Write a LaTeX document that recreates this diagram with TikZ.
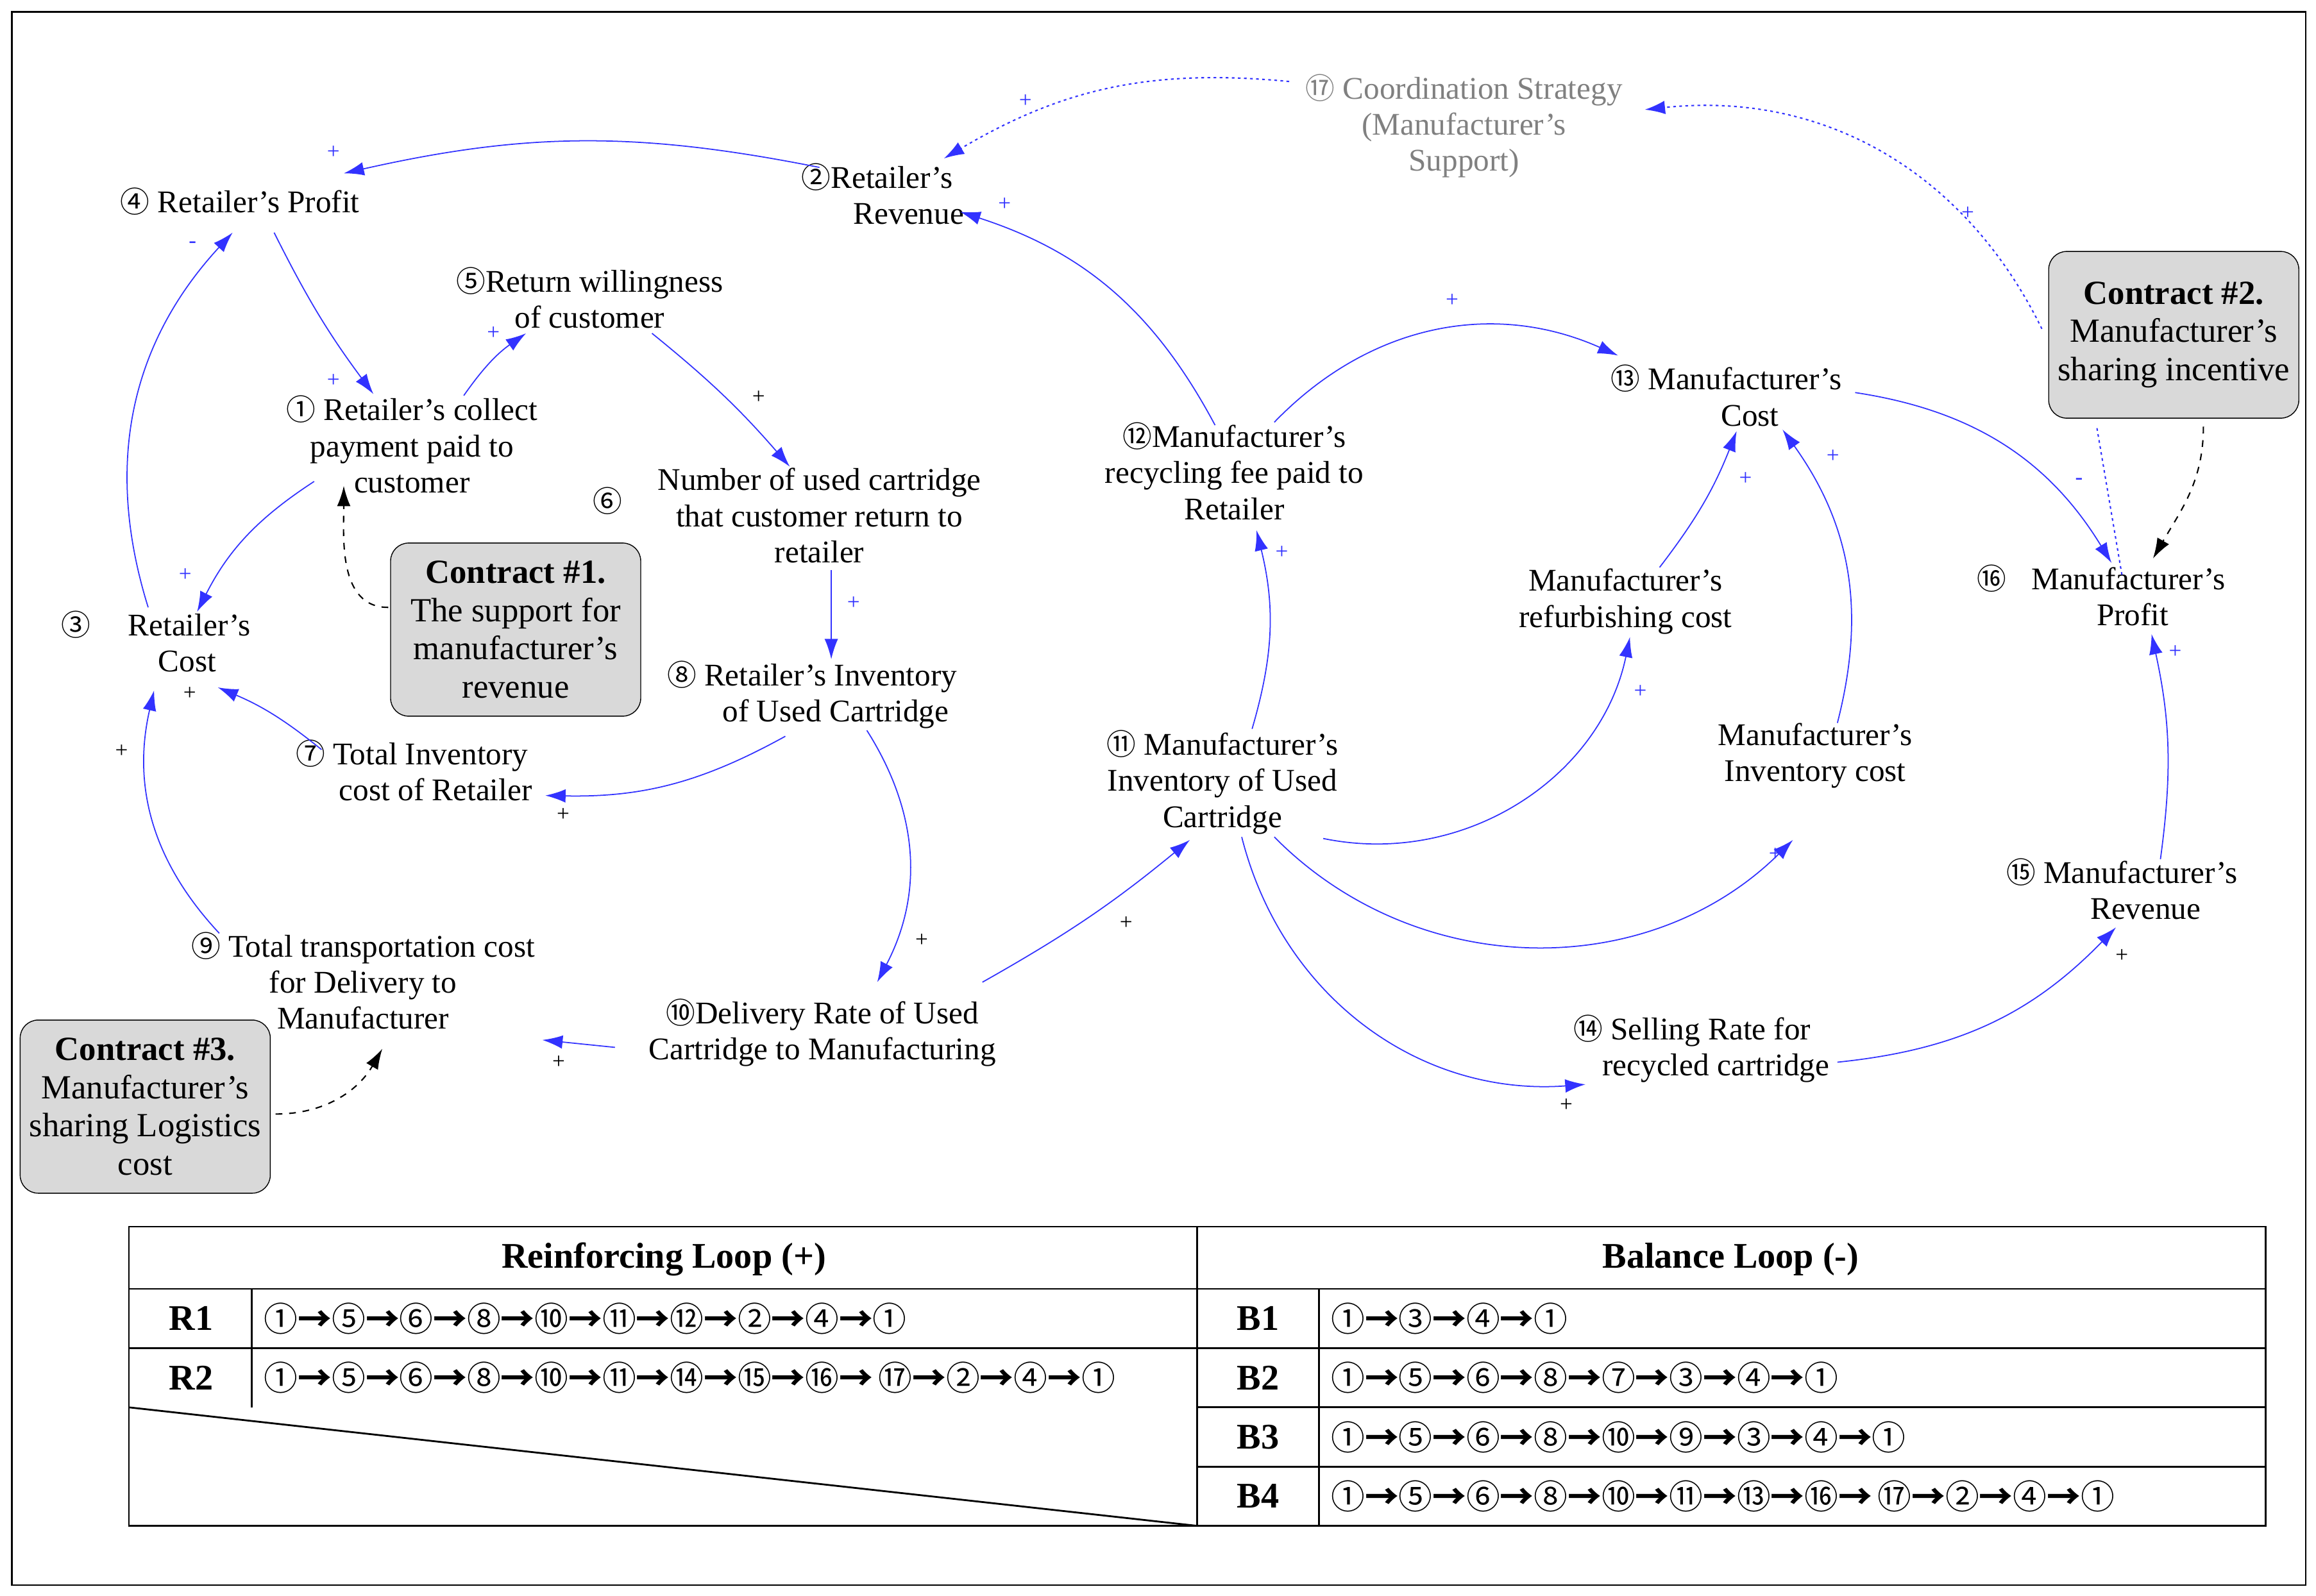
\documentclass[tikz,border=0pt]{standalone}
\usepackage{fontspec}
\setmainfont{Liberation Serif}
\newfontfamily\cjk{Noto Sans CJK SC}
\newcommand\cn[1]{{\cjk\fontsize{13}{15}\selectfont #1}}
\newcommand\tn[1]{{\cjk\fontsize{15}{17}\selectfont #1}}
\newcommand\ra{{\cjk\bfseries →}}
\usetikzlibrary{arrows.meta}
\definecolor{lb}{RGB}{50,50,255}
\begin{document}
\begin{tikzpicture}[x=0.0231cm,y=-0.0231cm,
 every node/.style={font=\fontsize{14}{16}\selectfont,align=center,inner sep=1pt},
 lnk/.style={-{Latex[length=9pt,width=6pt]},line width=0.5pt,color=lb},
 dot/.style={lnk,dash pattern=on 1.2pt off 1.5pt,line width=0.6pt},
 dsh/.style={-{Latex[length=9pt,width=6pt]},dashed,line width=0.6pt},
 sg/.style={font=\fontsize{10}{10}\selectfont,text=lb,inner sep=0},
 sgk/.style={font=\fontsize{10}{10}\selectfont,inner sep=0},
 box/.style={draw,rounded corners=8pt,fill=gray!30,font=\fontsize{15}{17}\selectfont,align=center,inner sep=3pt,minimum width=3.9cm,minimum height=2.7cm}]
\useasboundingbox (0,0) rectangle (1563,1077);
\draw[line width=0.6pt] (8,8) rectangle (1556,1070);
% nodes
\node (n4) at (162,136) {\cn{④} Retailer's Profit};
\node (n2) at (592,131) {\cn{②}Retailer's\\\hspace*{2em}Revenue};
\node[text=gray] (n17) at (988,85) {\cn{⑰} Coordination Strategy\\(Manufacturer's\\Support)};
\node (n5) at (398,201) {\cn{⑤}Return willingness\\of customer};
\node (n1) at (278,300) {\cn{①} Retailer's collect\\payment paid to\\customer};
\node (n6) at (553,348) {Number of used cartridge\\that customer return to\\retailer};
\node at (410,338) {\cn{⑥}};
\node (n3) at (105,433) {\cn{③}\hspace{1.2em}Retailer's\\\hspace*{2em}Cost};
\node[box] (c1) at (348,425) {\textbf{Contract \#1.}\\The support for\\manufacturer's\\revenue};
\node (n8) at (548,469) {\cn{⑧} Retailer's Inventory\\\hspace*{1.5em}of Used Cartridge};
\node (n7) at (278,520) {\cn{⑦} Total Inventory\\\hspace*{1.5em}cost of Retailer};
\node (n9) at (245,662) {\cn{⑨} Total transportation cost\\for Delivery to\\Manufacturer};
\node[box] (c3) at (98,747) {\textbf{Contract \#3.}\\Manufacturer's\\sharing Logistics\\cost};
\node (n10) at (555,697) {\cn{⑩}Delivery Rate of Used\\Cartridge to Manufacturing};
\node (n12) at (833,318) {\cn{⑫}Manufacturer's\\recycling fee paid to\\Retailer};
\node (n11) at (825,528) {\cn{⑪} Manufacturer's\\Inventory of Used\\Cartridge};
\node (n13) at (1165,267) {\cn{⑬} Manufacturer's\\\hspace*{1.5em}Cost};
\node (nr) at (1097,406) {Manufacturer's\\refurbishing cost};
\node (ni) at (1225,510) {Manufacturer's\\Inventory cost};
\node[box,minimum height=2.6cm] (c2) at (1467,226) {\textbf{Contract \#2.}\\Manufacturer's\\sharing incentive};
\node (n16) at (1418,402) {\cn{⑯}\hspace{0.8em}Manufacturer's\\\hspace*{2em}Profit};
\node (n15) at (1432,600) {\cn{⑮} Manufacturer's\\\hspace*{1.5em}Revenue};
\node (n14) at (1142,708) {\cn{⑭} Selling Rate for\\\hspace*{1.5em}recycled cartridge};
% links
\draw[lnk] (553,113) to[bend right=12] (232,117);
\draw[lnk] (185,157) to[bend right=5] (252,266);
\draw[lnk] (313,267) to[bend left=10] (355,225);
\draw[lnk] (440,225) to[bend left=5] (533,315);
\draw[lnk] (561,385) to (561,445);
\draw[lnk] (530,497) to[bend left=15] (368,537);
\draw[lnk] (217,506) to[bend right=8] (147,464);
\draw[lnk] (212,325) to[bend right=15] (133,413);
\draw[lnk] (100,410) to[bend left=30] (157,157);
\draw[lnk] (148,630) to[bend left=28] (104,466);
\draw[lnk] (585,493) to[bend left=30] (592,663);
\draw[lnk] (415,707) to (366,702);
\draw[lnk] (663,663) to[bend right=5] (803,567);
\draw[lnk] (845,492) to[bend right=15] (848,358);
\draw[lnk] (820,287) to[bend right=22] (648,143);
\draw[lnk] (860,285) to[bend left=35] (1092,240);
\draw[lnk] (893,566) to[bend right=45] (1100,430);
\draw[lnk] (1120,383) to[bend right=8] (1172,291);
\draw[lnk] (860,565) to[bend right=45] (1210,567);
\draw[lnk] (1240,488) to[bend right=25] (1203,290);
\draw[lnk] (1252,265) to[bend left=25] (1425,380);
\draw[lnk] (838,565) to[bend right=40] (1070,732);
\draw[lnk] (1240,717) to[bend right=20] (1428,626);
\draw[lnk] (1458,580) to[bend right=10] (1452,428);
\draw[dot] (870,55) to[bend right=18] (637,107);
\draw[dot] (1378,222) to[bend right=35] (1110,74);
\draw[lb,dash pattern=on 1.2pt off 1.5pt,line width=0.6pt] (1432,388) -- (1415,288);
\draw[dsh] (262,410) to[out=180,in=-90] (232,328);
\draw[dsh] (1487,288) to[out=-90,in=60] (1453,377);
\draw[dsh] (186,752) to[out=0,in=-120] (258,708);
% signs
\node[sg] at (225,103) {+}; \node[sg] at (130,165) {-};
\node[sg] at (225,257) {+}; \node[sg] at (333,225) {+};
\node[sgk] at (512,268) {+}; \node[sg] at (576,407) {+};
\node[sg] at (125,388) {+}; \node[sgk] at (128,468) {+};
\node[sgk] at (380,550) {+}; \node[sgk] at (82,507) {+};
\node[sgk] at (622,635) {+}; \node[sgk] at (377,717) {+};
\node[sgk] at (760,623) {+}; \node[sg] at (865,373) {+};
\node[sg] at (678,138) {+}; \node[sg] at (980,203) {+};
\node[sg] at (692,68) {+}; \node[sg] at (1328,144) {+};
\node[sg] at (1178,323) {+}; \node[sg] at (1237,308) {+};
\node[sg] at (1107,467) {+}; \node[sg] at (1198,577) {+};
\node[sg] at (1403,325) {-}; \node[sg] at (1468,440) {+};
\node[sgk] at (1432,645) {+}; \node[sgk] at (1057,746) {+};
% table
\begin{scope}[line width=0.8pt]
\draw (87,828) rectangle (1529,1030);
\draw (808,828) -- (808,1030);
\foreach \y in {870,910} \draw (87,\y) -- (1529,\y);
\foreach \y in {950,990} \draw (808,\y) -- (1529,\y);
\draw (170,870) -- (170,950); \draw (890,870) -- (890,1030);
\draw (87,950) -- (808,1030);
\end{scope}
\begin{scope}[every node/.style={font=\fontsize{16}{18}\selectfont\bfseries}]
\node (h1) at (448,850) {Reinforcing Loop (+)};
\node (h2) at (1168,850) {Balance Loop (-)};
\node (r1) at (129,890) {R1};
\node (r2) at (129,930) {R2};
\node (b1) at (849,890) {B1};
\node (b2) at (849,930) {B2};
\node (b3) at (849,970) {B3};
\node (b4) at (849,1010) {B4};
\end{scope}
\begin{scope}[every node/.style={anchor=west,inner sep=0}]
\node at (178,890) {\tn{①\ra⑤\ra⑥\ra⑧\ra⑩\ra⑪\ra⑫\ra②\ra④\ra①}};
\node at (178,930) {\tn{①\ra⑤\ra⑥\ra⑧\ra⑩\ra⑪\ra⑭\ra⑮\ra⑯\ra\,⑰\ra②\ra④\ra①}};
\node at (898,890) {\tn{①\ra③\ra④\ra①}};
\node at (898,930) {\tn{①\ra⑤\ra⑥\ra⑧\ra⑦\ra③\ra④\ra①}};
\node at (898,970) {\tn{①\ra⑤\ra⑥\ra⑧\ra⑩\ra⑨\ra③\ra④\ra①}};
\node at (898,1010) {\tn{①\ra⑤\ra⑥\ra⑧\ra⑩\ra⑪\ra⑬\ra⑯\ra\,⑰\ra②\ra④\ra①}};
\end{scope}
\end{tikzpicture}
\end{document}
